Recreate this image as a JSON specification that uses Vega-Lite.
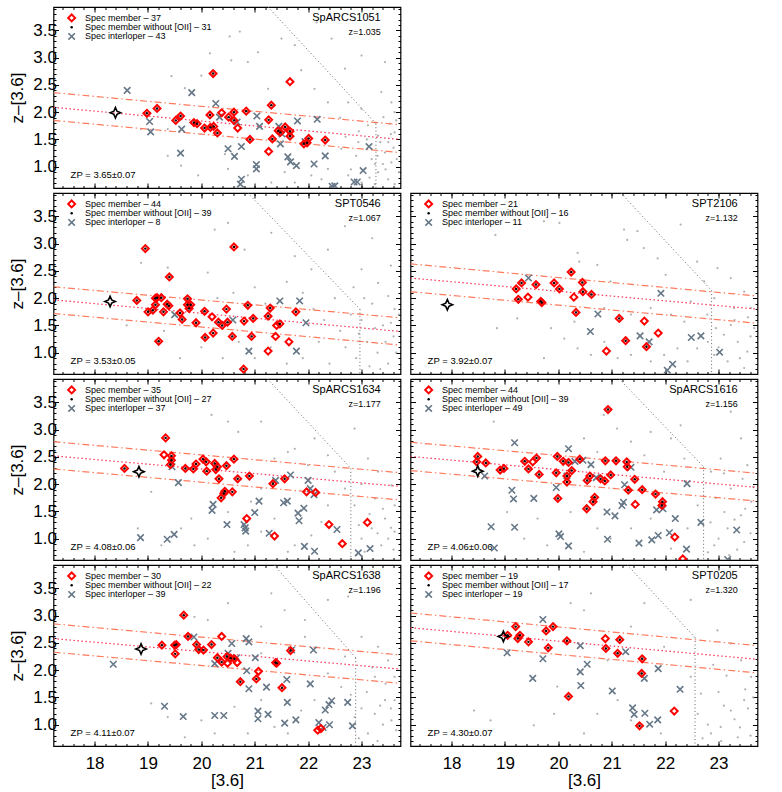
{
"$schema": "https://vega.github.io/schema/vega-lite/v6.json",
"background": "white",
"padding": {"left": 7.5, "top": 5, "right": 5, "bottom": 2},
"spacing": 1,
"config": {
  "font": "Liberation Sans",
  "view": {"stroke": "#000", "strokeWidth": 1.2},
  "axis": {"grid": false, "domain": false, "tickColor": "#000", "tickWidth": 1, "labelFont": "Liberation Sans", "labelFontSize": 17, "labelColor": "#000", "titleFont": "Liberation Sans", "titleFontSize": 17, "titleFontWeight": "normal", "titleColor": "#000", "labelPadding": 4, "titlePadding": 6},
  "axisBottom": {"labelPadding": 14, "titlePadding": 1},
  "axisLeft": {"labelPadding": 2},
  "text": {"font": "Liberation Sans", "color": "#000"}
},
"datasets": {
"p1": [
{"k":"u","x":17.23,"y":2.36,"x2":23.73,"y2":1.77},{"k":"c","x":17.23,"y":2.09,"x2":23.73,"y2":1.50},{"k":"l","x":17.23,"y":1.85,"x2":23.73,"y2":1.26},
{"k":"d","x":21.25,"y":3.93,"x2":23.27,"y2":1.79},{"k":"v","x":23.27,"y":1.79,"x2":23.27,"y2":0.61},
{"k":"g","x":18.39,"y":1.99},
{"k":"m","x":18.98,"y":1.98},{"k":"m","x":19.17,"y":2.07},{"k":"m","x":19.52,"y":1.85},{"k":"m","x":19.61,"y":1.93},{"k":"m","x":19.86,"y":1.81},{"k":"m","x":19.92,"y":1.79},{"k":"m","x":20.06,"y":1.71},{"k":"m","x":20.16,"y":1.95},{"k":"m","x":20.17,"y":1.72},{"k":"m","x":20.23,"y":1.74},{"k":"m","x":20.22,"y":2.71},{"k":"m","x":20.30,"y":1.62},{"k":"m","x":20.51,"y":1.91},{"k":"m","x":20.61,"y":2.0},{"k":"m","x":20.61,"y":1.85},{"k":"m","x":20.84,"y":2.02},{"k":"m","x":20.91,"y":1.50},{"k":"m","x":21.26,"y":1.86},{"k":"m","x":21.31,"y":2.13},{"k":"m","x":21.33,"y":1.51},{"k":"m","x":21.44,"y":1.66},{"k":"m","x":21.48,"y":1.63},{"k":"m","x":21.57,"y":1.73},{"k":"m","x":21.66,"y":1.65},{"k":"m","x":21.66,"y":1.56},{"k":"m","x":21.92,"y":1.42},{"k":"m","x":21.98,"y":1.44},{"k":"m","x":22.01,"y":1.52},{"k":"m","x":22.32,"y":1.49},
{"k":"o","x":20.38,"y":1.99},{"k":"o","x":20.68,"y":1.71},{"k":"o","x":21.26,"y":1.28},{"k":"o","x":21.66,"y":2.56},
{"k":"i","x":18.61,"y":2.40},{"k":"i","x":19.03,"y":1.83},{"k":"i","x":19.05,"y":1.64},{"k":"i","x":19.61,"y":1.25},{"k":"i","x":19.63,"y":1.69},{"k":"i","x":19.82,"y":2.36},{"k":"i","x":20.27,"y":2.16},{"k":"i","x":20.34,"y":1.91},{"k":"i","x":20.5,"y":1.33},{"k":"i","x":20.62,"y":1.19},{"k":"i","x":20.67,"y":1.82},{"k":"i","x":20.75,"y":1.37},{"k":"i","x":20.75,"y":0.77},{"k":"i","x":20.73,"y":0.68},{"k":"i","x":21.03,"y":1.04},{"k":"i","x":21.03,"y":0.96},{"k":"i","x":21.04,"y":1.93},{"k":"i","x":21.09,"y":1.74},{"k":"i","x":21.45,"y":1.74},{"k":"i","x":21.48,"y":1.42},{"k":"i","x":21.51,"y":1.60},{"k":"i","x":21.62,"y":1.18},{"k":"i","x":21.67,"y":1.09},{"k":"i","x":21.78,"y":1.02},{"k":"i","x":21.80,"y":1.84},{"k":"i","x":21.94,"y":1.46},{"k":"i","x":22.11,"y":1.05},{"k":"i","x":22.17,"y":1.87},{"k":"i","x":22.32,"y":1.20},{"k":"i","x":22.45,"y":0.64},{"k":"i","x":22.5,"y":0.65},{"k":"i","x":22.86,"y":0.72},{"k":"i","x":22.92,"y":0.72},{"k":"i","x":23.03,"y":0.93},{"k":"i","x":23.14,"y":1.37},
{"k":"b","x":20.53,"y":3.39},{"k":"b","x":20.72,"y":3.48},{"k":"b","x":20.16,"y":3.08},{"k":"b","x":19.44,"y":2.66},{"k":"b","x":19.69,"y":2.44},{"k":"b","x":20.0,"y":2.67},{"k":"b","x":20.56,"y":2.95},{"k":"b","x":20.87,"y":2.92},{"k":"b","x":21.06,"y":3.10},{"k":"b","x":21.5,"y":3.35},{"k":"b","x":21.75,"y":3.23},{"k":"b","x":21.87,"y":2.77},{"k":"b","x":22.16,"y":3.65},{"k":"b","x":22.44,"y":3.35},{"k":"b","x":22.69,"y":2.80},{"k":"b","x":23.0,"y":3.04},{"k":"b","x":23.37,"y":2.37},{"k":"b","x":23.44,"y":2.92},{"k":"b","x":23.56,"y":2.18},{"k":"b","x":23.62,"y":2.0},{"k":"b","x":23.0,"y":2.06},{"k":"b","x":22.75,"y":2.18},{"k":"b","x":23.12,"y":1.76},{"k":"b","x":23.31,"y":1.57},{"k":"b","x":23.5,"y":1.45},{"k":"b","x":23.44,"y":1.26},{"k":"b","x":23.56,"y":1.08},{"k":"b","x":23.19,"y":1.14},{"k":"b","x":23.31,"y":0.90},{"k":"b","x":23.0,"y":0.71},{"k":"b","x":22.75,"y":0.84},{"k":"b","x":22.62,"y":1.33},{"k":"b","x":22.37,"y":0.96},{"k":"b","x":22.25,"y":0.77},{"k":"b","x":22.06,"y":0.84},{"k":"b","x":21.75,"y":0.71},{"k":"b","x":21.56,"y":0.90},{"k":"b","x":21.31,"y":0.71},{"k":"b","x":20.87,"y":0.84},{"k":"b","x":20.5,"y":0.96},{"k":"b","x":20.44,"y":1.23},{"k":"b","x":19.94,"y":0.84},{"k":"b","x":19.62,"y":1.02},{"k":"b","x":19.37,"y":1.20},{"k":"b","x":19.37,"y":1.69},{"k":"b","x":18.87,"y":1.69},{"k":"b","x":21.25,"y":2.43},{"k":"b","x":22.12,"y":2.43},{"k":"b","x":22.37,"y":2.18},{"k":"b","x":23.62,"y":1.63},{"k":"b","x":23.5,"y":0.77},{"k":"b","x":23.25,"y":0.68},{"k":"b","x":23.62,"y":0.68},{"k":"b","x":22.94,"y":1.45},{"k":"b","x":23.19,"y":1.33},{"k":"b","x":23.41,"y":1.91},{"k":"b","x":23.53,"y":1.79},{"k":"b","x":23.66,"y":1.14},{"k":"b","x":23.06,"y":0.96},{"k":"b","x":23.1,"y":1.5},{"k":"b","x":23.3,"y":1.2},{"k":"b","x":23.45,"y":0.95},{"k":"b","x":23.6,"y":1.35},{"k":"b","x":23.25,"y":1.05},{"k":"b","x":22.9,"y":1.2},{"k":"b","x":23.55,"y":1.6},{"k":"b","x":23.7,"y":0.9},{"k":"b","x":22.8,"y":0.95},{"k":"b","x":23.35,"y":1.45},{"k":"b","x":22.6,"y":1.9},{"k":"b","x":23.4,"y":1.05},{"k":"b","x":23.15,"y":0.8},{"k":"b","x":22.95,"y":1.65},{"k":"b","x":23.65,"y":1.85},{"k":"b","x":22.7,"y":1.55}
],
"p2": [
{"k":"u","x":17.23,"y":2.21,"x2":23.73,"y2":1.64},{"k":"c","x":17.23,"y":1.97,"x2":23.73,"y2":1.39},{"k":"l","x":17.23,"y":1.72,"x2":23.73,"y2":1.14},
{"k":"d","x":20.87,"y":3.93,"x2":22.97,"y2":1.80},{"k":"v","x":22.97,"y":1.80,"x2":22.97,"y2":0.61},
{"k":"g","x":18.29,"y":1.94},
{"k":"m","x":18.79,"y":1.96},{"k":"m","x":18.95,"y":2.91},{"k":"m","x":19.0,"y":1.75},{"k":"m","x":19.09,"y":1.78},{"k":"m","x":19.14,"y":1.88},{"k":"m","x":19.14,"y":2.0},{"k":"m","x":19.17,"y":2.01},{"k":"m","x":19.25,"y":2.01},{"k":"m","x":19.2,"y":1.21},{"k":"m","x":19.29,"y":1.75},{"k":"m","x":19.36,"y":1.89},{"k":"m","x":19.39,"y":1.86},{"k":"m","x":19.4,"y":2.39},{"k":"m","x":19.6,"y":1.73},{"k":"m","x":19.64,"y":1.61},{"k":"m","x":19.74,"y":1.99},{"k":"m","x":19.74,"y":1.88},{"k":"m","x":19.77,"y":1.81},{"k":"m","x":19.8,"y":1.88},{"k":"m","x":19.9,"y":1.55},{"k":"m","x":20.06,"y":1.76},{"k":"m","x":20.07,"y":1.28},{"k":"m","x":20.22,"y":1.36},{"k":"m","x":20.32,"y":1.56},{"k":"m","x":20.39,"y":1.50},{"k":"m","x":20.47,"y":1.80},{"k":"m","x":20.49,"y":1.56},{"k":"m","x":20.58,"y":1.30},{"k":"m","x":20.61,"y":2.94},{"k":"m","x":20.8,"y":1.58},{"k":"m","x":20.79,"y":0.70},{"k":"m","x":20.87,"y":1.87},{"k":"m","x":20.94,"y":1.30},{"k":"m","x":20.97,"y":1.63},{"k":"m","x":21.25,"y":1.67},{"k":"m","x":21.29,"y":1.82},{"k":"m","x":21.47,"y":1.53},{"k":"m","x":21.77,"y":1.75},
{"k":"o","x":20.2,"y":1.66},{"k":"o","x":21.25,"y":1.03},{"k":"o","x":21.39,"y":1.30},{"k":"o","x":21.41,"y":1.50},{"k":"o","x":21.64,"y":1.20},
{"k":"i","x":19.5,"y":1.70},{"k":"i","x":20.59,"y":1.60},{"k":"i","x":20.89,"y":1.03},{"k":"i","x":21.47,"y":1.95},{"k":"i","x":21.84,"y":1.95},{"k":"i","x":21.96,"y":1.55},{"k":"i","x":21.78,"y":1.03},
{"k":"b","x":18.87,"y":2.65},{"k":"b","x":19.37,"y":2.56},{"k":"b","x":20.12,"y":2.47},{"k":"b","x":20.25,"y":3.26},{"k":"b","x":20.5,"y":3.38},{"k":"b","x":20.81,"y":2.89},{"k":"b","x":21.31,"y":3.2},{"k":"b","x":21.75,"y":2.77},{"k":"b","x":22.06,"y":2.53},{"k":"b","x":22.37,"y":2.89},{"k":"b","x":22.69,"y":3.32},{"k":"b","x":23.0,"y":2.53},{"k":"b","x":23.31,"y":2.28},{"k":"b","x":23.5,"y":2.04},{"k":"b","x":23.62,"y":1.8},{"k":"b","x":23.2,"y":3.1},{"k":"b","x":23.55,"y":2.6},{"k":"b","x":20.3,"y":2.0},{"k":"b","x":20.6,"y":2.1},{"k":"b","x":21.0,"y":2.2},{"k":"b","x":21.2,"y":1.9},{"k":"b","x":21.6,"y":2.3},{"k":"b","x":21.9,"y":2.1},{"k":"b","x":22.1,"y":1.8},{"k":"b","x":22.3,"y":1.6},{"k":"b","x":22.5,"y":2.0},{"k":"b","x":22.6,"y":1.4},{"k":"b","x":22.8,"y":1.7},{"k":"b","x":23.0,"y":1.6},{"k":"b","x":23.1,"y":1.2},{"k":"b","x":23.2,"y":1.9},{"k":"b","x":23.3,"y":1.0},{"k":"b","x":23.4,"y":1.5},{"k":"b","x":23.5,"y":0.8},{"k":"b","x":23.6,"y":1.3},{"k":"b","x":23.7,"y":1.7},{"k":"b","x":22.9,"y":0.9},{"k":"b","x":22.7,"y":1.1},{"k":"b","x":22.4,"y":0.8},{"k":"b","x":22.2,"y":1.2},{"k":"b","x":21.9,"y":0.9},{"k":"b","x":21.6,"y":0.8},{"k":"b","x":21.3,"y":1.1},{"k":"b","x":21.0,"y":0.9},{"k":"b","x":20.7,"y":1.2},{"k":"b","x":20.4,"y":0.9},{"k":"b","x":20.0,"y":1.1},{"k":"b","x":19.6,"y":0.9},{"k":"b","x":19.3,"y":1.4},{"k":"b","x":18.6,"y":1.5},{"k":"b","x":22.95,"y":1.35},{"k":"b","x":23.15,"y":0.75},{"k":"b","x":23.45,"y":1.2},{"k":"b","x":23.65,"y":1.0},{"k":"b","x":23.25,"y":1.45},{"k":"b","x":22.85,"y":2.2},{"k":"b","x":23.05,"y":2.0},{"k":"b","x":23.35,"y":0.7},{"k":"b","x":23.55,"y":1.55}
],
"p3": [
{"k":"u","x":17.23,"y":2.63,"x2":23.73,"y2":2.04},{"k":"c","x":17.23,"y":2.37,"x2":23.73,"y2":1.80},{"k":"l","x":17.23,"y":2.12,"x2":23.73,"y2":1.54},
{"k":"d","x":21.17,"y":3.93,"x2":22.87,"y2":2.14},{"k":"v","x":22.87,"y":2.14,"x2":22.87,"y2":0.61},
{"k":"g","x":17.92,"y":1.88},
{"k":"m","x":19.21,"y":2.17},{"k":"m","x":19.31,"y":2.28},{"k":"m","x":19.25,"y":1.98},{"k":"m","x":19.58,"y":2.25},{"k":"m","x":19.67,"y":1.94},{"k":"m","x":19.69,"y":1.92},{"k":"m","x":19.92,"y":2.28},{"k":"m","x":20.02,"y":2.17},{"k":"m","x":20.24,"y":2.48},{"k":"m","x":20.45,"y":2.29},{"k":"m","x":20.46,"y":2.12},{"k":"m","x":20.62,"y":2.07},{"k":"m","x":20.33,"y":1.74},{"k":"m","x":21.14,"y":1.63},{"k":"m","x":21.26,"y":1.22},{"k":"m","x":21.65,"y":1.11},
{"k":"o","x":19.43,"y":2.02},{"k":"o","x":20.29,"y":2.02},{"k":"o","x":20.9,"y":1.03},{"k":"o","x":21.61,"y":1.58},{"k":"o","x":21.87,"y":1.36},
{"k":"i","x":19.44,"y":2.37},{"k":"i","x":20.74,"y":1.71},{"k":"i","x":20.6,"y":1.39},{"k":"i","x":21.53,"y":1.31},{"k":"i","x":21.7,"y":1.2},{"k":"i","x":21.92,"y":2.09},{"k":"i","x":22.04,"y":0.68},{"k":"i","x":22.14,"y":0.79},{"k":"i","x":22.49,"y":1.28},{"k":"i","x":22.67,"y":1.31},{"k":"i","x":23.02,"y":1.01},
{"k":"b","x":18.82,"y":3.16},{"k":"b","x":18.85,"y":1.45},{"k":"b","x":19.23,"y":1.63},{"k":"b","x":19.73,"y":3.41},{"k":"b","x":20.02,"y":3.38},{"k":"b","x":20.36,"y":2.83},{"k":"b","x":20.39,"y":2.67},{"k":"b","x":20.73,"y":2.61},{"k":"b","x":20.98,"y":2.31},{"k":"b","x":21.23,"y":3.26},{"k":"b","x":21.29,"y":3.07},{"k":"b","x":21.48,"y":3.23},{"k":"b","x":21.6,"y":2.92},{"k":"b","x":21.86,"y":2.73},{"k":"b","x":22.01,"y":2.43},{"k":"b","x":22.29,"y":3.35},{"k":"b","x":22.6,"y":2.67},{"k":"b","x":22.73,"y":2.31},{"k":"b","x":22.98,"y":2.55},{"k":"b","x":23.23,"y":2.37},{"k":"b","x":23.48,"y":2.12},{"k":"b","x":23.61,"y":1.82},{"k":"b","x":23.23,"y":1.51},{"k":"b","x":23.1,"y":1.33},{"k":"b","x":23.36,"y":1.2},{"k":"b","x":23.54,"y":1.02},{"k":"b","x":23.17,"y":0.84},{"k":"b","x":22.92,"y":0.96},{"k":"b","x":22.6,"y":1.08},{"k":"b","x":22.42,"y":0.84},{"k":"b","x":22.23,"y":1.08},{"k":"b","x":21.98,"y":0.96},{"k":"b","x":21.73,"y":0.84},{"k":"b","x":21.36,"y":0.96},{"k":"b","x":21.11,"y":0.9},{"k":"b","x":20.86,"y":1.2},{"k":"b","x":20.61,"y":0.96},{"k":"b","x":20.36,"y":1.08},{"k":"b","x":20.11,"y":1.26},{"k":"b","x":19.86,"y":1.45},{"k":"b","x":19.73,"y":0.9},{"k":"b","x":20.3,"y":1.57},{"k":"b","x":20.86,"y":1.82},{"k":"b","x":21.36,"y":1.7},{"k":"b","x":21.73,"y":1.82},{"k":"b","x":22.11,"y":1.7},{"k":"b","x":22.36,"y":1.57},{"k":"b","x":22.79,"y":1.7},{"k":"b","x":23.67,"y":1.45},{"k":"b","x":23.48,"y":0.72},{"k":"b","x":23.29,"y":1.82},{"k":"b","x":22.92,"y":2.0},{"k":"b","x":22.48,"y":1.94},{"k":"b","x":23.3,"y":1.6},{"k":"b","x":23.6,"y":1.3},{"k":"b","x":23.0,"y":1.1},{"k":"b","x":22.8,"y":1.2},{"k":"b","x":23.4,"y":0.9},{"k":"b","x":23.55,"y":1.65},{"k":"b","x":22.95,"y":1.45}
],
"p4": [
{"k":"u","x":17.23,"y":2.78,"x2":23.73,"y2":2.21},{"k":"c","x":17.23,"y":2.52,"x2":23.73,"y2":1.96},{"k":"l","x":17.23,"y":2.28,"x2":23.73,"y2":1.71},
{"k":"d","x":21.24,"y":3.93,"x2":22.8,"y2":2.29},{"k":"v","x":22.8,"y":2.29,"x2":22.8,"y2":0.61},
{"k":"g","x":18.83,"y":2.23},
{"k":"m","x":18.56,"y":2.29},{"k":"m","x":19.33,"y":2.85},{"k":"m","x":19.44,"y":2.52},{"k":"m","x":19.44,"y":2.44},{"k":"m","x":19.42,"y":2.36},{"k":"m","x":19.7,"y":2.29},{"k":"m","x":19.85,"y":2.28},{"k":"m","x":19.9,"y":2.37},{"k":"m","x":20.03,"y":2.46},{"k":"m","x":20.09,"y":2.41},{"k":"m","x":20.1,"y":2.24},{"k":"m","x":20.25,"y":2.38},{"k":"m","x":20.27,"y":2.27},{"k":"m","x":20.3,"y":2.32},{"k":"m","x":20.33,"y":2.10},{"k":"m","x":20.37,"y":1.75},{"k":"m","x":20.42,"y":1.83},{"k":"m","x":20.44,"y":1.87},{"k":"m","x":20.47,"y":2.34},{"k":"m","x":20.58,"y":1.86},{"k":"m","x":20.61,"y":2.46},{"k":"m","x":20.68,"y":2.10},{"k":"m","x":20.9,"y":2.15},{"k":"m","x":21.34,"y":2.01},{"k":"m","x":21.56,"y":2.10},
{"k":"o","x":19.3,"y":2.54},{"k":"o","x":20.85,"y":1.37},{"k":"o","x":21.37,"y":1.05},{"k":"o","x":21.97,"y":1.86},{"k":"o","x":22.14,"y":1.85},{"k":"o","x":22.39,"y":1.26},{"k":"o","x":22.64,"y":0.91},{"k":"o","x":23.11,"y":1.30},
{"k":"i","x":18.86,"y":1.02},{"k":"i","x":19.36,"y":0.99},{"k":"i","x":19.49,"y":1.08},{"k":"i","x":19.45,"y":2.32},{"k":"i","x":19.57,"y":2.03},{"k":"i","x":20.2,"y":1.52},{"k":"i","x":20.22,"y":1.63},{"k":"i","x":20.48,"y":1.26},{"k":"i","x":20.8,"y":1.26},{"k":"i","x":20.82,"y":1.20},{"k":"i","x":20.83,"y":1.14},{"k":"i","x":21.0,"y":1.48},{"k":"i","x":21.08,"y":1.69},{"k":"i","x":21.27,"y":1.10},{"k":"i","x":21.39,"y":2.07},{"k":"i","x":21.54,"y":1.66},{"k":"i","x":21.61,"y":1.69},{"k":"i","x":21.67,"y":2.17},{"k":"i","x":21.81,"y":1.47},{"k":"i","x":21.83,"y":1.33},{"k":"i","x":21.92,"y":1.56},{"k":"i","x":21.93,"y":0.86},{"k":"i","x":22.0,"y":2.07},{"k":"i","x":22.04,"y":1.92},{"k":"i","x":22.11,"y":1.81},{"k":"i","x":22.12,"y":0.77},{"k":"i","x":22.54,"y":1.17},{"k":"i","x":22.94,"y":0.74},{"k":"i","x":23.16,"y":0.82},
{"k":"b","x":19.06,"y":1.86},{"k":"b","x":18.81,"y":1.19},{"k":"b","x":19.81,"y":1.37},{"k":"b","x":20.19,"y":3.27},{"k":"b","x":20.5,"y":3.15},{"k":"b","x":20.69,"y":2.96},{"k":"b","x":21.12,"y":3.15},{"k":"b","x":21.37,"y":2.47},{"k":"b","x":21.75,"y":2.65},{"k":"b","x":22.0,"y":2.35},{"k":"b","x":22.12,"y":2.84},{"k":"b","x":22.37,"y":2.53},{"k":"b","x":22.87,"y":3.02},{"k":"b","x":23.12,"y":2.47},{"k":"b","x":23.31,"y":2.23},{"k":"b","x":23.56,"y":1.98},{"k":"b","x":23.62,"y":1.61},{"k":"b","x":23.44,"y":1.37},{"k":"b","x":23.19,"y":1.19},{"k":"b","x":23.0,"y":1.0},{"k":"b","x":23.37,"y":0.88},{"k":"b","x":23.62,"y":1.13},{"k":"b","x":22.87,"y":1.61},{"k":"b","x":22.69,"y":1.92},{"k":"b","x":22.37,"y":1.61},{"k":"b","x":22.25,"y":1.31},{"k":"b","x":22.06,"y":1.06},{"k":"b","x":21.75,"y":0.88},{"k":"b","x":21.62,"y":0.76},{"k":"b","x":21.37,"y":1.37},{"k":"b","x":21.12,"y":1.13},{"k":"b","x":20.87,"y":0.88},{"k":"b","x":20.62,"y":0.76},{"k":"b","x":20.5,"y":1.49},{"k":"b","x":20.12,"y":1.0},{"k":"b","x":19.87,"y":0.88},{"k":"b","x":19.62,"y":1.19},{"k":"b","x":19.25,"y":0.88},{"k":"b","x":21.12,"y":1.92},{"k":"b","x":20.93,"y":1.68},{"k":"b","x":21.62,"y":2.59},{"k":"b","x":22.5,"y":2.23},{"k":"b","x":23.25,"y":1.74},{"k":"b","x":23.5,"y":1.0},{"k":"b","x":23.06,"y":0.76},{"k":"b","x":23.4,"y":1.55},{"k":"b","x":23.15,"y":1.45},{"k":"b","x":23.6,"y":0.8},{"k":"b","x":22.95,"y":1.25},{"k":"b","x":23.3,"y":1.1},{"k":"b","x":23.55,"y":1.2},{"k":"b","x":23.0,"y":2.0},{"k":"b","x":22.9,"y":0.7}
],
"p5": [
{"k":"u","x":17.23,"y":2.77,"x2":23.73,"y2":2.20},{"k":"c","x":17.23,"y":2.51,"x2":23.73,"y2":1.94},{"k":"l","x":17.23,"y":2.25,"x2":23.73,"y2":1.69},
{"k":"d","x":21.14,"y":3.93,"x2":22.72,"y2":2.32},{"k":"v","x":22.72,"y":2.32,"x2":22.72,"y2":0.61},
{"k":"g","x":18.49,"y":2.24},
{"k":"m","x":18.49,"y":2.51},{"k":"m","x":18.47,"y":2.41},{"k":"m","x":18.64,"y":2.39},{"k":"m","x":18.91,"y":2.26},{"k":"m","x":18.98,"y":2.29},{"k":"m","x":19.37,"y":2.42},{"k":"m","x":19.44,"y":2.28},{"k":"m","x":19.59,"y":2.48},{"k":"m","x":19.64,"y":2.18},{"k":"m","x":19.98,"y":2.51},{"k":"m","x":19.96,"y":2.21},{"k":"m","x":19.99,"y":1.74},{"k":"m","x":20.09,"y":2.42},{"k":"m","x":20.16,"y":2.15},{"k":"m","x":20.16,"y":2.04},{"k":"m","x":20.19,"y":2.40},{"k":"m","x":20.25,"y":2.25},{"k":"m","x":20.4,"y":2.46},{"k":"m","x":20.54,"y":2.07},{"k":"m","x":20.59,"y":2.15},{"k":"m","x":20.53,"y":1.55},{"k":"m","x":20.65,"y":1.68},{"k":"m","x":20.68,"y":1.76},{"k":"m","x":20.79,"y":2.10},{"k":"m","x":20.87,"y":2.06},{"k":"m","x":20.88,"y":2.43},{"k":"m","x":20.93,"y":3.37},{"k":"m","x":20.98,"y":2.17},{"k":"m","x":21.08,"y":2.43},{"k":"m","x":21.28,"y":2.41},{"k":"m","x":21.29,"y":2.32},{"k":"m","x":21.31,"y":1.89},{"k":"m","x":21.43,"y":2.09},{"k":"m","x":21.57,"y":1.90},{"k":"m","x":21.82,"y":1.82},{"k":"m","x":21.95,"y":1.68},{"k":"m","x":21.94,"y":1.61},
{"k":"o","x":19.52,"y":2.41},{"k":"o","x":21.44,"y":1.63},{"k":"o","x":22.18,"y":1.03},{"k":"o","x":22.33,"y":0.63},
{"k":"i","x":18.62,"y":2.15},{"k":"i","x":18.74,"y":1.22},{"k":"i","x":19.18,"y":2.76},{"k":"i","x":19.13,"y":1.89},{"k":"i","x":19.16,"y":1.73},{"k":"i","x":19.54,"y":1.74},{"k":"i","x":19.18,"y":1.21},{"k":"i","x":18.8,"y":0.83},{"k":"i","x":19.96,"y":1.94},{"k":"i","x":20.19,"y":2.65},{"k":"i","x":20.16,"y":2.15},{"k":"i","x":20.01,"y":1.09},{"k":"i","x":20.04,"y":1.04},{"k":"i","x":20.19,"y":0.87},{"k":"i","x":20.31,"y":2.42},{"k":"i","x":20.46,"y":2.44},{"k":"i","x":20.61,"y":2.36},{"k":"i","x":20.71,"y":2.12},{"k":"i","x":20.91,"y":1.49},{"k":"i","x":20.92,"y":0.99},{"k":"i","x":21.06,"y":1.42},{"k":"i","x":21.19,"y":1.61},{"k":"i","x":21.22,"y":1.67},{"k":"i","x":21.24,"y":1.99},{"k":"i","x":21.36,"y":2.31},{"k":"i","x":21.51,"y":0.92},{"k":"i","x":21.75,"y":0.98},{"k":"i","x":21.87,"y":1.06},{"k":"i","x":21.84,"y":1.53},{"k":"i","x":21.96,"y":1.55},{"k":"i","x":22.19,"y":1.37},{"k":"i","x":22.08,"y":1.11},{"k":"i","x":22.4,"y":0.81},{"k":"i","x":22.41,"y":2.01},{"k":"i","x":22.67,"y":1.30},{"k":"i","x":23.34,"y":1.16},{"k":"i","x":23.17,"y":0.62},
{"k":"b","x":18.79,"y":3.15},{"k":"b","x":20.85,"y":3.27},{"k":"b","x":21.1,"y":3.02},{"k":"b","x":21.36,"y":2.78},{"k":"b","x":21.61,"y":2.53},{"k":"b","x":21.73,"y":2.96},{"k":"b","x":22.11,"y":2.84},{"k":"b","x":22.29,"y":3.08},{"k":"b","x":23.23,"y":3.33},{"k":"b","x":23.42,"y":2.84},{"k":"b","x":23.04,"y":2.47},{"k":"b","x":23.54,"y":2.35},{"k":"b","x":22.86,"y":2.23},{"k":"b","x":23.23,"y":1.92},{"k":"b","x":23.61,"y":1.68},{"k":"b","x":23.42,"y":1.43},{"k":"b","x":23.17,"y":1.19},{"k":"b","x":23.48,"y":0.94},{"k":"b","x":22.92,"y":0.88},{"k":"b","x":23.11,"y":1.49},{"k":"b","x":22.61,"y":1.61},{"k":"b","x":22.42,"y":1.19},{"k":"b","x":22.11,"y":0.82},{"k":"b","x":21.73,"y":1.37},{"k":"b","x":21.36,"y":1.19},{"k":"b","x":20.98,"y":1.0},{"k":"b","x":20.73,"y":1.19},{"k":"b","x":20.48,"y":0.76},{"k":"b","x":19.79,"y":0.88},{"k":"b","x":19.61,"y":1.37},{"k":"b","x":19.36,"y":1.0},{"k":"b","x":19.04,"y":1.49},{"k":"b","x":20.23,"y":1.49},{"k":"b","x":20.48,"y":2.84},{"k":"b","x":20.73,"y":2.59},{"k":"b","x":22.36,"y":2.47},{"k":"b","x":21.98,"y":2.23},{"k":"b","x":23.3,"y":1.35},{"k":"b","x":23.5,"y":1.55},{"k":"b","x":23.0,"y":1.0},{"k":"b","x":23.6,"y":1.1},{"k":"b","x":22.85,"y":1.3},{"k":"b","x":23.2,"y":0.7},{"k":"b","x":23.45,"y":2.1},{"k":"b","x":22.95,"y":1.75},{"k":"b","x":23.65,"y":1.95},{"k":"b","x":23.1,"y":2.2},{"k":"b","x":23.35,"y":0.8},{"k":"b","x":22.8,"y":0.75}
],
"p6": [
{"k":"u","x":17.23,"y":2.85,"x2":23.73,"y2":2.28},{"k":"c","x":17.23,"y":2.58,"x2":23.73,"y2":2.02},{"k":"l","x":17.23,"y":2.33,"x2":23.73,"y2":1.76},
{"k":"d","x":21.36,"y":3.93,"x2":22.89,"y2":2.23},{"k":"v","x":22.89,"y":2.23,"x2":22.89,"y2":0.61},
{"k":"g","x":18.87,"y":2.39},
{"k":"m","x":19.26,"y":2.46},{"k":"m","x":19.5,"y":2.46},{"k":"m","x":19.53,"y":2.47},{"k":"m","x":19.51,"y":2.30},{"k":"m","x":19.67,"y":3.01},{"k":"m","x":19.75,"y":2.62},{"k":"m","x":19.91,"y":2.47},{"k":"m","x":19.95,"y":2.38},{"k":"m","x":20.04,"y":2.37},{"k":"m","x":20.19,"y":2.47},{"k":"m","x":20.3,"y":2.23},{"k":"m","x":20.38,"y":2.15},{"k":"m","x":20.48,"y":2.25},{"k":"m","x":20.55,"y":2.22},{"k":"m","x":20.62,"y":2.21},{"k":"m","x":20.73,"y":1.79},{"k":"m","x":21.03,"y":1.84},{"k":"m","x":21.39,"y":2.14},{"k":"m","x":21.41,"y":2.13},{"k":"m","x":21.51,"y":1.68},{"k":"m","x":21.67,"y":2.36},
{"k":"o","x":20.38,"y":2.62},{"k":"o","x":20.49,"y":2.13},{"k":"o","x":20.67,"y":2.14},{"k":"o","x":21.07,"y":1.98},{"k":"o","x":22.18,"y":0.90},{"k":"o","x":22.24,"y":0.93},
{"k":"i","x":18.35,"y":2.11},{"k":"i","x":19.31,"y":1.34},{"k":"i","x":19.66,"y":1.15},{"k":"i","x":19.86,"y":2.61},{"k":"i","x":20.25,"y":1.17},{"k":"i","x":20.25,"y":2.12},{"k":"i","x":20.42,"y":1.17},{"k":"i","x":20.5,"y":2.31},{"k":"i","x":20.57,"y":2.49},{"k":"i","x":20.66,"y":2.23},{"k":"i","x":20.84,"y":2.58},{"k":"i","x":20.89,"y":2.52},{"k":"i","x":20.85,"y":1.99},{"k":"i","x":20.89,"y":1.66},{"k":"i","x":21.01,"y":2.23},{"k":"i","x":21.06,"y":1.25},{"k":"i","x":21.06,"y":1.11},{"k":"i","x":21.22,"y":1.69},{"k":"i","x":21.25,"y":1.19},{"k":"i","x":21.56,"y":1.03},{"k":"i","x":21.6,"y":1.83},{"k":"i","x":21.61,"y":1.41},{"k":"i","x":21.69,"y":2.37},{"k":"i","x":21.77,"y":1.09},{"k":"i","x":22.04,"y":1.75},{"k":"i","x":22.1,"y":2.37},{"k":"i","x":22.2,"y":1.04},{"k":"i","x":22.28,"y":0.95},{"k":"i","x":22.32,"y":1.27},{"k":"i","x":22.39,"y":1.37},{"k":"i","x":22.44,"y":1.44},{"k":"i","x":22.4,"y":1.0},{"k":"i","x":22.74,"y":1.41},{"k":"i","x":22.83,"y":0.98},
{"k":"b","x":19.87,"y":2.98},{"k":"b","x":20.12,"y":2.92},{"k":"b","x":20.5,"y":3.23},{"k":"b","x":21.12,"y":2.8},{"k":"b","x":21.31,"y":3.41},{"k":"b","x":21.56,"y":3.1},{"k":"b","x":21.94,"y":2.92},{"k":"b","x":22.37,"y":3.29},{"k":"b","x":22.75,"y":3.35},{"k":"b","x":23.0,"y":2.61},{"k":"b","x":23.31,"y":2.43},{"k":"b","x":23.5,"y":2.18},{"k":"b","x":23.62,"y":1.88},{"k":"b","x":23.44,"y":1.45},{"k":"b","x":23.25,"y":1.2},{"k":"b","x":23.56,"y":1.08},{"k":"b","x":23.12,"y":0.84},{"k":"b","x":22.87,"y":1.14},{"k":"b","x":22.62,"y":1.69},{"k":"b","x":22.37,"y":1.94},{"k":"b","x":22.12,"y":1.45},{"k":"b","x":21.87,"y":1.26},{"k":"b","x":21.62,"y":0.84},{"k":"b","x":21.37,"y":0.96},{"k":"b","x":21.12,"y":1.45},{"k":"b","x":20.87,"y":0.84},{"k":"b","x":20.62,"y":1.33},{"k":"b","x":20.25,"y":0.84},{"k":"b","x":20.0,"y":1.08},{"k":"b","x":19.69,"y":0.77},{"k":"b","x":19.37,"y":1.14},{"k":"b","x":19.06,"y":1.39},{"k":"b","x":21.12,"y":2.31},{"k":"b","x":21.94,"y":2.61},{"k":"b","x":22.69,"y":2.25},{"k":"b","x":23.25,"y":1.88},{"k":"b","x":23.62,"y":1.45},{"k":"b","x":23.4,"y":1.0},{"k":"b","x":23.1,"y":1.6},{"k":"b","x":23.55,"y":1.3},{"k":"b","x":22.95,"y":0.75},{"k":"b","x":23.3,"y":0.7},{"k":"b","x":23.65,"y":0.9},{"k":"b","x":22.8,"y":1.55},{"k":"b","x":23.2,"y":2.05},{"k":"b","x":23.45,"y":1.75},{"k":"b","x":23.0,"y":1.3},{"k":"b","x":23.35,"y":1.35}
],
"p7": [
{"k":"u","x":17.23,"y":3.05,"x2":23.73,"y2":2.45},{"k":"c","x":17.23,"y":2.78,"x2":23.73,"y2":2.20},{"k":"l","x":17.23,"y":2.54,"x2":23.73,"y2":1.95},
{"k":"d","x":21.29,"y":3.93,"x2":22.56,"y2":2.6},{"k":"v","x":22.56,"y":2.6,"x2":22.56,"y2":0.61},
{"k":"g","x":18.97,"y":2.62},
{"k":"m","x":19.05,"y":2.64},{"k":"m","x":19.2,"y":2.80},{"k":"m","x":19.24,"y":2.58},{"k":"m","x":19.28,"y":2.64},{"k":"m","x":19.44,"y":2.52},{"k":"m","x":19.77,"y":2.72},{"k":"m","x":19.9,"y":2.80},{"k":"m","x":19.81,"y":2.41},{"k":"m","x":20.16,"y":2.54},{"k":"m","x":20.19,"y":1.52},{"k":"m","x":20.89,"y":2.40},{"k":"m","x":21.11,"y":2.31},{"k":"m","x":21.15,"y":2.56},{"k":"m","x":21.57,"y":2.21},{"k":"m","x":21.56,"y":1.94},{"k":"m","x":21.52,"y":0.98},
{"k":"o","x":20.88,"y":2.58},{"k":"o","x":22.17,"y":1.25},
{"k":"i","x":19.04,"y":2.32},{"k":"i","x":19.52,"y":1.85},{"k":"i","x":19.71,"y":2.93},{"k":"i","x":19.71,"y":2.21},{"k":"i","x":20.41,"y":2.45},{"k":"i","x":20.41,"y":1.97},{"k":"i","x":20.42,"y":1.72},{"k":"i","x":20.54,"y":2.11},{"k":"i","x":21.01,"y":1.62},{"k":"i","x":21.26,"y":2.34},{"k":"i","x":21.39,"y":1.31},{"k":"i","x":21.42,"y":1.19},{"k":"i","x":21.62,"y":1.21},{"k":"i","x":21.61,"y":1.85},{"k":"i","x":21.71,"y":1.01},{"k":"i","x":21.86,"y":1.09},{"k":"i","x":21.87,"y":2.03},{"k":"i","x":22.28,"y":1.65},
{"k":"b","x":18.42,"y":1.26},{"k":"b","x":18.73,"y":1.08},{"k":"b","x":19.54,"y":0.99},{"k":"b","x":19.92,"y":1.2},{"k":"b","x":20.23,"y":3.23},{"k":"b","x":20.48,"y":3.1},{"k":"b","x":20.61,"y":3.41},{"k":"b","x":21.36,"y":2.8},{"k":"b","x":21.61,"y":3.23},{"k":"b","x":22.48,"y":3.29},{"k":"b","x":22.98,"y":2.73},{"k":"b","x":23.23,"y":2.49},{"k":"b","x":23.42,"y":2.18},{"k":"b","x":23.61,"y":1.88},{"k":"b","x":23.48,"y":1.45},{"k":"b","x":23.23,"y":1.26},{"k":"b","x":23.04,"y":0.96},{"k":"b","x":23.36,"y":0.77},{"k":"b","x":22.86,"y":0.84},{"k":"b","x":22.61,"y":1.2},{"k":"b","x":22.67,"y":1.57},{"k":"b","x":22.48,"y":1.88},{"k":"b","x":22.11,"y":1.26},{"k":"b","x":21.92,"y":0.84},{"k":"b","x":21.36,"y":1.08},{"k":"b","x":21.11,"y":1.45},{"k":"b","x":20.73,"y":1.2},{"k":"b","x":20.48,"y":0.84},{"k":"b","x":19.98,"y":1.7},{"k":"b","x":20.92,"y":2.18},{"k":"b","x":21.98,"y":2.43},{"k":"b","x":23.0,"y":1.6},{"k":"b","x":23.3,"y":1.1},{"k":"b","x":23.55,"y":1.3},{"k":"b","x":22.8,"y":1.0},{"k":"b","x":23.15,"y":1.9},{"k":"b","x":23.6,"y":0.8},{"k":"b","x":22.9,"y":2.1},{"k":"b","x":23.4,"y":0.95},{"k":"b","x":23.05,"y":0.7},{"k":"b","x":23.5,"y":1.65},{"k":"b","x":22.7,"y":0.75},{"k":"b","x":23.1,"y":1.35},{"k":"b","x":23.65,"y":1.5}
]
},
"vconcat": [
{"width":347,"height":181,"resolve":{"axis":{"x":"independent","y":"independent"}},"layer":[
 {"data":{"name":"p1"},"transform":[{"filter":"datum.k=='b'"}],"mark":{"type":"point","filled":true,"size":5,"color":"#a8a8a8","opacity":0.9,"clip":true},"encoding":{"x":{"field":"x","type":"quantitative","scale":{"domain":[17.23,23.73],"nice":false,"zero":false},"axis":{"orient":"bottom","tickCount":6,"tickSize":-5,"labels":false,"title":null}},"y":{"field":"y","type":"quantitative","scale":{"domain":[0.61,3.93],"nice":false,"zero":false},"axis":{"orient":"left","tickCount":6,"tickSize":-5,"format":".1f","title":"z–[3.6]"}}}},
 {"data":{"name":"p1"},"transform":[{"filter":"datum.k=='u'||datum.k=='l'"}],"mark":{"type":"rule","color":"#ff7a5c","strokeWidth":1.2,"strokeDash":[7,3,1.5,3],"clip":true},"encoding":{"x":{"field":"x","type":"quantitative","axis":{"orient":"bottom","tickCount":33,"tickSize":-2.5,"labels":false,"title":null}},"y":{"field":"y","type":"quantitative","axis":{"orient":"left","tickCount":33,"tickSize":-2.5,"labels":false,"title":null}},"x2":{"field":"x2"},"y2":{"field":"y2"}}},
 {"data":{"name":"p1"},"transform":[{"filter":"datum.k=='c'"}],"mark":{"type":"rule","color":"#ff3355","strokeWidth":1.2,"strokeDash":[1.5,2.5],"clip":true},"encoding":{"x":{"field":"x","type":"quantitative","axis":{"orient":"top","tickCount":6,"tickSize":-5,"labels":false,"title":null}},"y":{"field":"y","type":"quantitative","axis":{"orient":"right","tickCount":6,"tickSize":-5,"labels":false,"title":null}},"x2":{"field":"x2"},"y2":{"field":"y2"}}},
 {"data":{"name":"p1"},"transform":[{"filter":"datum.k=='d'||datum.k=='v'"}],"mark":{"type":"rule","color":"#666666","strokeWidth":1,"strokeDash":[1,2.5],"clip":true},"encoding":{"x":{"field":"x","type":"quantitative","axis":{"orient":"top","tickCount":33,"tickSize":-2.5,"labels":false,"title":null}},"y":{"field":"y","type":"quantitative","axis":{"orient":"right","tickCount":33,"tickSize":-2.5,"labels":false,"title":null}},"x2":{"field":"x2"},"y2":{"field":"y2"}}},
 {"data":{"name":"p1"},"transform":[{"filter":"datum.k=='i'"}],"mark":{"type":"point","shape":"M-1,-1L1,1M-1,1L1,-1","filled":false,"color":"#667788","strokeWidth":1.6,"size":42,"opacity":1,"clip":true},"encoding":{"x":{"field":"x","type":"quantitative","axis":null},"y":{"field":"y","type":"quantitative","axis":null}}},
 {"data":{"name":"p1"},"transform":[{"filter":"datum.k=='m'||datum.k=='o'"}],"mark":{"type":"point","shape":"diamond","filled":false,"color":"#ff0000","strokeWidth":2,"size":48,"opacity":1,"clip":true},"encoding":{"x":{"field":"x","type":"quantitative","axis":null},"y":{"field":"y","type":"quantitative","axis":null}}},
 {"data":{"name":"p1"},"transform":[{"filter":"datum.k=='m'"}],"mark":{"type":"point","filled":true,"color":"#000000","size":6,"opacity":1,"clip":true},"encoding":{"x":{"field":"x","type":"quantitative","axis":null},"y":{"field":"y","type":"quantitative","axis":null}}},
 {"data":{"name":"p1"},"transform":[{"filter":"datum.k=='g'"}],"mark":{"type":"point","shape":"M0,-1L0.3,-0.3L1,0L0.3,0.3L0,1L-0.3,0.3L-1,0L-0.3,-0.3Z","filled":false,"color":"#000000","strokeWidth":1.6,"size":110,"opacity":1,"clip":true},"encoding":{"x":{"field":"x","type":"quantitative","axis":null},"y":{"field":"y","type":"quantitative","axis":null}}},
 {"data":{"values":[{}]},"mark":{"type":"point","shape":"diamond","filled":false,"color":"#ff0000","strokeWidth":2,"size":48,"opacity":1},"encoding":{"x":{"datum":17.57,"axis":null},"y":{"datum":3.73,"axis":null}}},
 {"data":{"values":[{}]},"mark":{"type":"point","filled":true,"color":"#000000","size":6,"opacity":1},"encoding":{"x":{"datum":17.57,"axis":null},"y":{"datum":3.56,"axis":null}}},
 {"data":{"values":[{}]},"mark":{"type":"point","shape":"M-1,-1L1,1M-1,1L1,-1","filled":false,"color":"#667788","strokeWidth":1.6,"size":42,"opacity":1},"encoding":{"x":{"datum":17.57,"axis":null},"y":{"datum":3.39,"axis":null}}},
 {"data":{"values":[{}]},"mark":{"type":"text","align":"left","baseline":"middle","fontSize":9,"lineHeight":9.3},"encoding":{"x":{"datum":17.82,"axis":null},"y":{"datum":3.73,"axis":null},"text":{"value":["Spec member – 37","Spec member without [OII] – 31","Spec interloper – 43"]}}},
 {"data":{"values":[{}]},"mark":{"type":"text","align":"right","baseline":"middle","fontSize":11},"encoding":{"x":{"datum":23.36,"axis":null},"y":{"datum":3.73,"axis":null},"text":{"value":"SpARCS1051"}}},
 {"data":{"values":[{}]},"mark":{"type":"text","align":"right","baseline":"middle","fontSize":9},"encoding":{"x":{"datum":23.36,"axis":null},"y":{"datum":3.47,"axis":null},"text":{"value":"z=1.035"}}},
 {"data":{"values":[{}]},"mark":{"type":"text","align":"left","baseline":"middle","fontSize":9.5},"encoding":{"x":{"datum":17.55,"axis":null},"y":{"datum":0.84,"axis":null},"text":{"value":"ZP = 3.65±0.07"}}}
]},
{"hconcat":[
{"width":347,"height":181,"resolve":{"axis":{"x":"independent","y":"independent"}},"layer":[
 {"data":{"name":"p2"},"transform":[{"filter":"datum.k=='b'"}],"mark":{"type":"point","filled":true,"size":5,"color":"#a8a8a8","opacity":0.9,"clip":true},"encoding":{"x":{"field":"x","type":"quantitative","scale":{"domain":[17.23,23.73],"nice":false,"zero":false},"axis":{"orient":"bottom","tickCount":6,"tickSize":-5,"labels":false,"title":null}},"y":{"field":"y","type":"quantitative","scale":{"domain":[0.61,3.93],"nice":false,"zero":false},"axis":{"orient":"left","tickCount":6,"tickSize":-5,"format":".1f","title":"z–[3.6]"}}}},
 {"data":{"name":"p2"},"transform":[{"filter":"datum.k=='u'||datum.k=='l'"}],"mark":{"type":"rule","color":"#ff7a5c","strokeWidth":1.2,"strokeDash":[7,3,1.5,3],"clip":true},"encoding":{"x":{"field":"x","type":"quantitative","axis":{"orient":"bottom","tickCount":33,"tickSize":-2.5,"labels":false,"title":null}},"y":{"field":"y","type":"quantitative","axis":{"orient":"left","tickCount":33,"tickSize":-2.5,"labels":false,"title":null}},"x2":{"field":"x2"},"y2":{"field":"y2"}}},
 {"data":{"name":"p2"},"transform":[{"filter":"datum.k=='c'"}],"mark":{"type":"rule","color":"#ff3355","strokeWidth":1.2,"strokeDash":[1.5,2.5],"clip":true},"encoding":{"x":{"field":"x","type":"quantitative","axis":{"orient":"top","tickCount":6,"tickSize":-5,"labels":false,"title":null}},"y":{"field":"y","type":"quantitative","axis":{"orient":"right","tickCount":6,"tickSize":-5,"labels":false,"title":null}},"x2":{"field":"x2"},"y2":{"field":"y2"}}},
 {"data":{"name":"p2"},"transform":[{"filter":"datum.k=='d'||datum.k=='v'"}],"mark":{"type":"rule","color":"#666666","strokeWidth":1,"strokeDash":[1,2.5],"clip":true},"encoding":{"x":{"field":"x","type":"quantitative","axis":{"orient":"top","tickCount":33,"tickSize":-2.5,"labels":false,"title":null}},"y":{"field":"y","type":"quantitative","axis":{"orient":"right","tickCount":33,"tickSize":-2.5,"labels":false,"title":null}},"x2":{"field":"x2"},"y2":{"field":"y2"}}},
 {"data":{"name":"p2"},"transform":[{"filter":"datum.k=='i'"}],"mark":{"type":"point","shape":"M-1,-1L1,1M-1,1L1,-1","filled":false,"color":"#667788","strokeWidth":1.6,"size":42,"opacity":1,"clip":true},"encoding":{"x":{"field":"x","type":"quantitative","axis":null},"y":{"field":"y","type":"quantitative","axis":null}}},
 {"data":{"name":"p2"},"transform":[{"filter":"datum.k=='m'||datum.k=='o'"}],"mark":{"type":"point","shape":"diamond","filled":false,"color":"#ff0000","strokeWidth":2,"size":48,"opacity":1,"clip":true},"encoding":{"x":{"field":"x","type":"quantitative","axis":null},"y":{"field":"y","type":"quantitative","axis":null}}},
 {"data":{"name":"p2"},"transform":[{"filter":"datum.k=='m'"}],"mark":{"type":"point","filled":true,"color":"#000000","size":6,"opacity":1,"clip":true},"encoding":{"x":{"field":"x","type":"quantitative","axis":null},"y":{"field":"y","type":"quantitative","axis":null}}},
 {"data":{"name":"p2"},"transform":[{"filter":"datum.k=='g'"}],"mark":{"type":"point","shape":"M0,-1L0.3,-0.3L1,0L0.3,0.3L0,1L-0.3,0.3L-1,0L-0.3,-0.3Z","filled":false,"color":"#000000","strokeWidth":1.6,"size":110,"opacity":1,"clip":true},"encoding":{"x":{"field":"x","type":"quantitative","axis":null},"y":{"field":"y","type":"quantitative","axis":null}}},
 {"data":{"values":[{}]},"mark":{"type":"point","shape":"diamond","filled":false,"color":"#ff0000","strokeWidth":2,"size":48,"opacity":1},"encoding":{"x":{"datum":17.57,"axis":null},"y":{"datum":3.73,"axis":null}}},
 {"data":{"values":[{}]},"mark":{"type":"point","filled":true,"color":"#000000","size":6,"opacity":1},"encoding":{"x":{"datum":17.57,"axis":null},"y":{"datum":3.56,"axis":null}}},
 {"data":{"values":[{}]},"mark":{"type":"point","shape":"M-1,-1L1,1M-1,1L1,-1","filled":false,"color":"#667788","strokeWidth":1.6,"size":42,"opacity":1},"encoding":{"x":{"datum":17.57,"axis":null},"y":{"datum":3.39,"axis":null}}},
 {"data":{"values":[{}]},"mark":{"type":"text","align":"left","baseline":"middle","fontSize":9,"lineHeight":9.3},"encoding":{"x":{"datum":17.82,"axis":null},"y":{"datum":3.73,"axis":null},"text":{"value":["Spec member – 44","Spec member without [OII] – 39","Spec interloper – 8"]}}},
 {"data":{"values":[{}]},"mark":{"type":"text","align":"right","baseline":"middle","fontSize":11},"encoding":{"x":{"datum":23.36,"axis":null},"y":{"datum":3.73,"axis":null},"text":{"value":"SPT0546"}}},
 {"data":{"values":[{}]},"mark":{"type":"text","align":"right","baseline":"middle","fontSize":9},"encoding":{"x":{"datum":23.36,"axis":null},"y":{"datum":3.47,"axis":null},"text":{"value":"z=1.067"}}},
 {"data":{"values":[{}]},"mark":{"type":"text","align":"left","baseline":"middle","fontSize":9.5},"encoding":{"x":{"datum":17.55,"axis":null},"y":{"datum":0.84,"axis":null},"text":{"value":"ZP = 3.53±0.05"}}}
]},
{"width":347,"height":181,"resolve":{"axis":{"x":"independent","y":"independent"}},"layer":[
 {"data":{"name":"p3"},"transform":[{"filter":"datum.k=='b'"}],"mark":{"type":"point","filled":true,"size":5,"color":"#a8a8a8","opacity":0.9,"clip":true},"encoding":{"x":{"field":"x","type":"quantitative","scale":{"domain":[17.23,23.73],"nice":false,"zero":false},"axis":{"orient":"bottom","tickCount":6,"tickSize":-5,"labels":false,"title":null}},"y":{"field":"y","type":"quantitative","scale":{"domain":[0.61,3.93],"nice":false,"zero":false},"axis":{"orient":"left","tickCount":6,"tickSize":-5,"labels":false,"title":null}}}},
 {"data":{"name":"p3"},"transform":[{"filter":"datum.k=='u'||datum.k=='l'"}],"mark":{"type":"rule","color":"#ff7a5c","strokeWidth":1.2,"strokeDash":[7,3,1.5,3],"clip":true},"encoding":{"x":{"field":"x","type":"quantitative","axis":{"orient":"bottom","tickCount":33,"tickSize":-2.5,"labels":false,"title":null}},"y":{"field":"y","type":"quantitative","axis":{"orient":"left","tickCount":33,"tickSize":-2.5,"labels":false,"title":null}},"x2":{"field":"x2"},"y2":{"field":"y2"}}},
 {"data":{"name":"p3"},"transform":[{"filter":"datum.k=='c'"}],"mark":{"type":"rule","color":"#ff3355","strokeWidth":1.2,"strokeDash":[1.5,2.5],"clip":true},"encoding":{"x":{"field":"x","type":"quantitative","axis":{"orient":"top","tickCount":6,"tickSize":-5,"labels":false,"title":null}},"y":{"field":"y","type":"quantitative","axis":{"orient":"right","tickCount":6,"tickSize":-5,"labels":false,"title":null}},"x2":{"field":"x2"},"y2":{"field":"y2"}}},
 {"data":{"name":"p3"},"transform":[{"filter":"datum.k=='d'||datum.k=='v'"}],"mark":{"type":"rule","color":"#666666","strokeWidth":1,"strokeDash":[1,2.5],"clip":true},"encoding":{"x":{"field":"x","type":"quantitative","axis":{"orient":"top","tickCount":33,"tickSize":-2.5,"labels":false,"title":null}},"y":{"field":"y","type":"quantitative","axis":{"orient":"right","tickCount":33,"tickSize":-2.5,"labels":false,"title":null}},"x2":{"field":"x2"},"y2":{"field":"y2"}}},
 {"data":{"name":"p3"},"transform":[{"filter":"datum.k=='i'"}],"mark":{"type":"point","shape":"M-1,-1L1,1M-1,1L1,-1","filled":false,"color":"#667788","strokeWidth":1.6,"size":42,"opacity":1,"clip":true},"encoding":{"x":{"field":"x","type":"quantitative","axis":null},"y":{"field":"y","type":"quantitative","axis":null}}},
 {"data":{"name":"p3"},"transform":[{"filter":"datum.k=='m'||datum.k=='o'"}],"mark":{"type":"point","shape":"diamond","filled":false,"color":"#ff0000","strokeWidth":2,"size":48,"opacity":1,"clip":true},"encoding":{"x":{"field":"x","type":"quantitative","axis":null},"y":{"field":"y","type":"quantitative","axis":null}}},
 {"data":{"name":"p3"},"transform":[{"filter":"datum.k=='m'"}],"mark":{"type":"point","filled":true,"color":"#000000","size":6,"opacity":1,"clip":true},"encoding":{"x":{"field":"x","type":"quantitative","axis":null},"y":{"field":"y","type":"quantitative","axis":null}}},
 {"data":{"name":"p3"},"transform":[{"filter":"datum.k=='g'"}],"mark":{"type":"point","shape":"M0,-1L0.3,-0.3L1,0L0.3,0.3L0,1L-0.3,0.3L-1,0L-0.3,-0.3Z","filled":false,"color":"#000000","strokeWidth":1.6,"size":110,"opacity":1,"clip":true},"encoding":{"x":{"field":"x","type":"quantitative","axis":null},"y":{"field":"y","type":"quantitative","axis":null}}},
 {"data":{"values":[{}]},"mark":{"type":"point","shape":"diamond","filled":false,"color":"#ff0000","strokeWidth":2,"size":48,"opacity":1},"encoding":{"x":{"datum":17.57,"axis":null},"y":{"datum":3.73,"axis":null}}},
 {"data":{"values":[{}]},"mark":{"type":"point","filled":true,"color":"#000000","size":6,"opacity":1},"encoding":{"x":{"datum":17.57,"axis":null},"y":{"datum":3.56,"axis":null}}},
 {"data":{"values":[{}]},"mark":{"type":"point","shape":"M-1,-1L1,1M-1,1L1,-1","filled":false,"color":"#667788","strokeWidth":1.6,"size":42,"opacity":1},"encoding":{"x":{"datum":17.57,"axis":null},"y":{"datum":3.39,"axis":null}}},
 {"data":{"values":[{}]},"mark":{"type":"text","align":"left","baseline":"middle","fontSize":9,"lineHeight":9.3},"encoding":{"x":{"datum":17.82,"axis":null},"y":{"datum":3.73,"axis":null},"text":{"value":["Spec member – 21","Spec member without [OII] – 16","Spec interloper – 11"]}}},
 {"data":{"values":[{}]},"mark":{"type":"text","align":"right","baseline":"middle","fontSize":11},"encoding":{"x":{"datum":23.36,"axis":null},"y":{"datum":3.73,"axis":null},"text":{"value":"SPT2106"}}},
 {"data":{"values":[{}]},"mark":{"type":"text","align":"right","baseline":"middle","fontSize":9},"encoding":{"x":{"datum":23.36,"axis":null},"y":{"datum":3.47,"axis":null},"text":{"value":"z=1.132"}}},
 {"data":{"values":[{}]},"mark":{"type":"text","align":"left","baseline":"middle","fontSize":9.5},"encoding":{"x":{"datum":17.55,"axis":null},"y":{"datum":0.84,"axis":null},"text":{"value":"ZP = 3.92±0.07"}}}
]}
],"spacing":6},
{"hconcat":[
{"width":347,"height":181,"resolve":{"axis":{"x":"independent","y":"independent"}},"layer":[
 {"data":{"name":"p4"},"transform":[{"filter":"datum.k=='b'"}],"mark":{"type":"point","filled":true,"size":5,"color":"#a8a8a8","opacity":0.9,"clip":true},"encoding":{"x":{"field":"x","type":"quantitative","scale":{"domain":[17.23,23.73],"nice":false,"zero":false},"axis":{"orient":"bottom","tickCount":6,"tickSize":-5,"labels":false,"title":null}},"y":{"field":"y","type":"quantitative","scale":{"domain":[0.61,3.93],"nice":false,"zero":false},"axis":{"orient":"left","tickCount":6,"tickSize":-5,"format":".1f","title":"z–[3.6]"}}}},
 {"data":{"name":"p4"},"transform":[{"filter":"datum.k=='u'||datum.k=='l'"}],"mark":{"type":"rule","color":"#ff7a5c","strokeWidth":1.2,"strokeDash":[7,3,1.5,3],"clip":true},"encoding":{"x":{"field":"x","type":"quantitative","axis":{"orient":"bottom","tickCount":33,"tickSize":-2.5,"labels":false,"title":null}},"y":{"field":"y","type":"quantitative","axis":{"orient":"left","tickCount":33,"tickSize":-2.5,"labels":false,"title":null}},"x2":{"field":"x2"},"y2":{"field":"y2"}}},
 {"data":{"name":"p4"},"transform":[{"filter":"datum.k=='c'"}],"mark":{"type":"rule","color":"#ff3355","strokeWidth":1.2,"strokeDash":[1.5,2.5],"clip":true},"encoding":{"x":{"field":"x","type":"quantitative","axis":{"orient":"top","tickCount":6,"tickSize":-5,"labels":false,"title":null}},"y":{"field":"y","type":"quantitative","axis":{"orient":"right","tickCount":6,"tickSize":-5,"labels":false,"title":null}},"x2":{"field":"x2"},"y2":{"field":"y2"}}},
 {"data":{"name":"p4"},"transform":[{"filter":"datum.k=='d'||datum.k=='v'"}],"mark":{"type":"rule","color":"#666666","strokeWidth":1,"strokeDash":[1,2.5],"clip":true},"encoding":{"x":{"field":"x","type":"quantitative","axis":{"orient":"top","tickCount":33,"tickSize":-2.5,"labels":false,"title":null}},"y":{"field":"y","type":"quantitative","axis":{"orient":"right","tickCount":33,"tickSize":-2.5,"labels":false,"title":null}},"x2":{"field":"x2"},"y2":{"field":"y2"}}},
 {"data":{"name":"p4"},"transform":[{"filter":"datum.k=='i'"}],"mark":{"type":"point","shape":"M-1,-1L1,1M-1,1L1,-1","filled":false,"color":"#667788","strokeWidth":1.6,"size":42,"opacity":1,"clip":true},"encoding":{"x":{"field":"x","type":"quantitative","axis":null},"y":{"field":"y","type":"quantitative","axis":null}}},
 {"data":{"name":"p4"},"transform":[{"filter":"datum.k=='m'||datum.k=='o'"}],"mark":{"type":"point","shape":"diamond","filled":false,"color":"#ff0000","strokeWidth":2,"size":48,"opacity":1,"clip":true},"encoding":{"x":{"field":"x","type":"quantitative","axis":null},"y":{"field":"y","type":"quantitative","axis":null}}},
 {"data":{"name":"p4"},"transform":[{"filter":"datum.k=='m'"}],"mark":{"type":"point","filled":true,"color":"#000000","size":6,"opacity":1,"clip":true},"encoding":{"x":{"field":"x","type":"quantitative","axis":null},"y":{"field":"y","type":"quantitative","axis":null}}},
 {"data":{"name":"p4"},"transform":[{"filter":"datum.k=='g'"}],"mark":{"type":"point","shape":"M0,-1L0.3,-0.3L1,0L0.3,0.3L0,1L-0.3,0.3L-1,0L-0.3,-0.3Z","filled":false,"color":"#000000","strokeWidth":1.6,"size":110,"opacity":1,"clip":true},"encoding":{"x":{"field":"x","type":"quantitative","axis":null},"y":{"field":"y","type":"quantitative","axis":null}}},
 {"data":{"values":[{}]},"mark":{"type":"point","shape":"diamond","filled":false,"color":"#ff0000","strokeWidth":2,"size":48,"opacity":1},"encoding":{"x":{"datum":17.57,"axis":null},"y":{"datum":3.73,"axis":null}}},
 {"data":{"values":[{}]},"mark":{"type":"point","filled":true,"color":"#000000","size":6,"opacity":1},"encoding":{"x":{"datum":17.57,"axis":null},"y":{"datum":3.56,"axis":null}}},
 {"data":{"values":[{}]},"mark":{"type":"point","shape":"M-1,-1L1,1M-1,1L1,-1","filled":false,"color":"#667788","strokeWidth":1.6,"size":42,"opacity":1},"encoding":{"x":{"datum":17.57,"axis":null},"y":{"datum":3.39,"axis":null}}},
 {"data":{"values":[{}]},"mark":{"type":"text","align":"left","baseline":"middle","fontSize":9,"lineHeight":9.3},"encoding":{"x":{"datum":17.82,"axis":null},"y":{"datum":3.73,"axis":null},"text":{"value":["Spec member – 35","Spec member without [OII] – 27","Spec interloper – 37"]}}},
 {"data":{"values":[{}]},"mark":{"type":"text","align":"right","baseline":"middle","fontSize":11},"encoding":{"x":{"datum":23.36,"axis":null},"y":{"datum":3.73,"axis":null},"text":{"value":"SpARCS1634"}}},
 {"data":{"values":[{}]},"mark":{"type":"text","align":"right","baseline":"middle","fontSize":9},"encoding":{"x":{"datum":23.36,"axis":null},"y":{"datum":3.47,"axis":null},"text":{"value":"z=1.177"}}},
 {"data":{"values":[{}]},"mark":{"type":"text","align":"left","baseline":"middle","fontSize":9.5},"encoding":{"x":{"datum":17.55,"axis":null},"y":{"datum":0.84,"axis":null},"text":{"value":"ZP = 4.08±0.06"}}}
]},
{"width":347,"height":181,"resolve":{"axis":{"x":"independent","y":"independent"}},"layer":[
 {"data":{"name":"p5"},"transform":[{"filter":"datum.k=='b'"}],"mark":{"type":"point","filled":true,"size":5,"color":"#a8a8a8","opacity":0.9,"clip":true},"encoding":{"x":{"field":"x","type":"quantitative","scale":{"domain":[17.23,23.73],"nice":false,"zero":false},"axis":{"orient":"bottom","tickCount":6,"tickSize":-5,"labels":false,"title":null}},"y":{"field":"y","type":"quantitative","scale":{"domain":[0.61,3.93],"nice":false,"zero":false},"axis":{"orient":"left","tickCount":6,"tickSize":-5,"labels":false,"title":null}}}},
 {"data":{"name":"p5"},"transform":[{"filter":"datum.k=='u'||datum.k=='l'"}],"mark":{"type":"rule","color":"#ff7a5c","strokeWidth":1.2,"strokeDash":[7,3,1.5,3],"clip":true},"encoding":{"x":{"field":"x","type":"quantitative","axis":{"orient":"bottom","tickCount":33,"tickSize":-2.5,"labels":false,"title":null}},"y":{"field":"y","type":"quantitative","axis":{"orient":"left","tickCount":33,"tickSize":-2.5,"labels":false,"title":null}},"x2":{"field":"x2"},"y2":{"field":"y2"}}},
 {"data":{"name":"p5"},"transform":[{"filter":"datum.k=='c'"}],"mark":{"type":"rule","color":"#ff3355","strokeWidth":1.2,"strokeDash":[1.5,2.5],"clip":true},"encoding":{"x":{"field":"x","type":"quantitative","axis":{"orient":"top","tickCount":6,"tickSize":-5,"labels":false,"title":null}},"y":{"field":"y","type":"quantitative","axis":{"orient":"right","tickCount":6,"tickSize":-5,"labels":false,"title":null}},"x2":{"field":"x2"},"y2":{"field":"y2"}}},
 {"data":{"name":"p5"},"transform":[{"filter":"datum.k=='d'||datum.k=='v'"}],"mark":{"type":"rule","color":"#666666","strokeWidth":1,"strokeDash":[1,2.5],"clip":true},"encoding":{"x":{"field":"x","type":"quantitative","axis":{"orient":"top","tickCount":33,"tickSize":-2.5,"labels":false,"title":null}},"y":{"field":"y","type":"quantitative","axis":{"orient":"right","tickCount":33,"tickSize":-2.5,"labels":false,"title":null}},"x2":{"field":"x2"},"y2":{"field":"y2"}}},
 {"data":{"name":"p5"},"transform":[{"filter":"datum.k=='i'"}],"mark":{"type":"point","shape":"M-1,-1L1,1M-1,1L1,-1","filled":false,"color":"#667788","strokeWidth":1.6,"size":42,"opacity":1,"clip":true},"encoding":{"x":{"field":"x","type":"quantitative","axis":null},"y":{"field":"y","type":"quantitative","axis":null}}},
 {"data":{"name":"p5"},"transform":[{"filter":"datum.k=='m'||datum.k=='o'"}],"mark":{"type":"point","shape":"diamond","filled":false,"color":"#ff0000","strokeWidth":2,"size":48,"opacity":1,"clip":true},"encoding":{"x":{"field":"x","type":"quantitative","axis":null},"y":{"field":"y","type":"quantitative","axis":null}}},
 {"data":{"name":"p5"},"transform":[{"filter":"datum.k=='m'"}],"mark":{"type":"point","filled":true,"color":"#000000","size":6,"opacity":1,"clip":true},"encoding":{"x":{"field":"x","type":"quantitative","axis":null},"y":{"field":"y","type":"quantitative","axis":null}}},
 {"data":{"name":"p5"},"transform":[{"filter":"datum.k=='g'"}],"mark":{"type":"point","shape":"M0,-1L0.3,-0.3L1,0L0.3,0.3L0,1L-0.3,0.3L-1,0L-0.3,-0.3Z","filled":false,"color":"#000000","strokeWidth":1.6,"size":110,"opacity":1,"clip":true},"encoding":{"x":{"field":"x","type":"quantitative","axis":null},"y":{"field":"y","type":"quantitative","axis":null}}},
 {"data":{"values":[{}]},"mark":{"type":"point","shape":"diamond","filled":false,"color":"#ff0000","strokeWidth":2,"size":48,"opacity":1},"encoding":{"x":{"datum":17.57,"axis":null},"y":{"datum":3.73,"axis":null}}},
 {"data":{"values":[{}]},"mark":{"type":"point","filled":true,"color":"#000000","size":6,"opacity":1},"encoding":{"x":{"datum":17.57,"axis":null},"y":{"datum":3.56,"axis":null}}},
 {"data":{"values":[{}]},"mark":{"type":"point","shape":"M-1,-1L1,1M-1,1L1,-1","filled":false,"color":"#667788","strokeWidth":1.6,"size":42,"opacity":1},"encoding":{"x":{"datum":17.57,"axis":null},"y":{"datum":3.39,"axis":null}}},
 {"data":{"values":[{}]},"mark":{"type":"text","align":"left","baseline":"middle","fontSize":9,"lineHeight":9.3},"encoding":{"x":{"datum":17.82,"axis":null},"y":{"datum":3.73,"axis":null},"text":{"value":["Spec member – 44","Spec member without [OII] – 39","Spec interloper – 49"]}}},
 {"data":{"values":[{}]},"mark":{"type":"text","align":"right","baseline":"middle","fontSize":11},"encoding":{"x":{"datum":23.36,"axis":null},"y":{"datum":3.73,"axis":null},"text":{"value":"SpARCS1616"}}},
 {"data":{"values":[{}]},"mark":{"type":"text","align":"right","baseline":"middle","fontSize":9},"encoding":{"x":{"datum":23.36,"axis":null},"y":{"datum":3.47,"axis":null},"text":{"value":"z=1.156"}}},
 {"data":{"values":[{}]},"mark":{"type":"text","align":"left","baseline":"middle","fontSize":9.5},"encoding":{"x":{"datum":17.55,"axis":null},"y":{"datum":0.84,"axis":null},"text":{"value":"ZP = 4.06±0.06"}}}
]}
],"spacing":6},
{"hconcat":[
{"width":347,"height":181,"resolve":{"axis":{"x":"independent","y":"independent"}},"layer":[
 {"data":{"name":"p6"},"transform":[{"filter":"datum.k=='b'"}],"mark":{"type":"point","filled":true,"size":5,"color":"#a8a8a8","opacity":0.9,"clip":true},"encoding":{"x":{"field":"x","type":"quantitative","scale":{"domain":[17.23,23.73],"nice":false,"zero":false},"axis":{"orient":"bottom","tickCount":6,"tickSize":-5,"title":"[3.6]"}},"y":{"field":"y","type":"quantitative","scale":{"domain":[0.61,3.93],"nice":false,"zero":false},"axis":{"orient":"left","tickCount":6,"tickSize":-5,"format":".1f","title":"z–[3.6]"}}}},
 {"data":{"name":"p6"},"transform":[{"filter":"datum.k=='u'||datum.k=='l'"}],"mark":{"type":"rule","color":"#ff7a5c","strokeWidth":1.2,"strokeDash":[7,3,1.5,3],"clip":true},"encoding":{"x":{"field":"x","type":"quantitative","axis":{"orient":"bottom","tickCount":33,"tickSize":-2.5,"labels":false,"title":null}},"y":{"field":"y","type":"quantitative","axis":{"orient":"left","tickCount":33,"tickSize":-2.5,"labels":false,"title":null}},"x2":{"field":"x2"},"y2":{"field":"y2"}}},
 {"data":{"name":"p6"},"transform":[{"filter":"datum.k=='c'"}],"mark":{"type":"rule","color":"#ff3355","strokeWidth":1.2,"strokeDash":[1.5,2.5],"clip":true},"encoding":{"x":{"field":"x","type":"quantitative","axis":{"orient":"top","tickCount":6,"tickSize":-5,"labels":false,"title":null}},"y":{"field":"y","type":"quantitative","axis":{"orient":"right","tickCount":6,"tickSize":-5,"labels":false,"title":null}},"x2":{"field":"x2"},"y2":{"field":"y2"}}},
 {"data":{"name":"p6"},"transform":[{"filter":"datum.k=='d'||datum.k=='v'"}],"mark":{"type":"rule","color":"#666666","strokeWidth":1,"strokeDash":[1,2.5],"clip":true},"encoding":{"x":{"field":"x","type":"quantitative","axis":{"orient":"top","tickCount":33,"tickSize":-2.5,"labels":false,"title":null}},"y":{"field":"y","type":"quantitative","axis":{"orient":"right","tickCount":33,"tickSize":-2.5,"labels":false,"title":null}},"x2":{"field":"x2"},"y2":{"field":"y2"}}},
 {"data":{"name":"p6"},"transform":[{"filter":"datum.k=='i'"}],"mark":{"type":"point","shape":"M-1,-1L1,1M-1,1L1,-1","filled":false,"color":"#667788","strokeWidth":1.6,"size":42,"opacity":1,"clip":true},"encoding":{"x":{"field":"x","type":"quantitative","axis":null},"y":{"field":"y","type":"quantitative","axis":null}}},
 {"data":{"name":"p6"},"transform":[{"filter":"datum.k=='m'||datum.k=='o'"}],"mark":{"type":"point","shape":"diamond","filled":false,"color":"#ff0000","strokeWidth":2,"size":48,"opacity":1,"clip":true},"encoding":{"x":{"field":"x","type":"quantitative","axis":null},"y":{"field":"y","type":"quantitative","axis":null}}},
 {"data":{"name":"p6"},"transform":[{"filter":"datum.k=='m'"}],"mark":{"type":"point","filled":true,"color":"#000000","size":6,"opacity":1,"clip":true},"encoding":{"x":{"field":"x","type":"quantitative","axis":null},"y":{"field":"y","type":"quantitative","axis":null}}},
 {"data":{"name":"p6"},"transform":[{"filter":"datum.k=='g'"}],"mark":{"type":"point","shape":"M0,-1L0.3,-0.3L1,0L0.3,0.3L0,1L-0.3,0.3L-1,0L-0.3,-0.3Z","filled":false,"color":"#000000","strokeWidth":1.6,"size":110,"opacity":1,"clip":true},"encoding":{"x":{"field":"x","type":"quantitative","axis":null},"y":{"field":"y","type":"quantitative","axis":null}}},
 {"data":{"values":[{}]},"mark":{"type":"point","shape":"diamond","filled":false,"color":"#ff0000","strokeWidth":2,"size":48,"opacity":1},"encoding":{"x":{"datum":17.57,"axis":null},"y":{"datum":3.73,"axis":null}}},
 {"data":{"values":[{}]},"mark":{"type":"point","filled":true,"color":"#000000","size":6,"opacity":1},"encoding":{"x":{"datum":17.57,"axis":null},"y":{"datum":3.56,"axis":null}}},
 {"data":{"values":[{}]},"mark":{"type":"point","shape":"M-1,-1L1,1M-1,1L1,-1","filled":false,"color":"#667788","strokeWidth":1.6,"size":42,"opacity":1},"encoding":{"x":{"datum":17.57,"axis":null},"y":{"datum":3.39,"axis":null}}},
 {"data":{"values":[{}]},"mark":{"type":"text","align":"left","baseline":"middle","fontSize":9,"lineHeight":9.3},"encoding":{"x":{"datum":17.82,"axis":null},"y":{"datum":3.73,"axis":null},"text":{"value":["Spec member – 30","Spec member without [OII] – 22","Spec interloper – 39"]}}},
 {"data":{"values":[{}]},"mark":{"type":"text","align":"right","baseline":"middle","fontSize":11},"encoding":{"x":{"datum":23.36,"axis":null},"y":{"datum":3.73,"axis":null},"text":{"value":"SpARCS1638"}}},
 {"data":{"values":[{}]},"mark":{"type":"text","align":"right","baseline":"middle","fontSize":9},"encoding":{"x":{"datum":23.36,"axis":null},"y":{"datum":3.47,"axis":null},"text":{"value":"z=1.196"}}},
 {"data":{"values":[{}]},"mark":{"type":"text","align":"left","baseline":"middle","fontSize":9.5},"encoding":{"x":{"datum":17.55,"axis":null},"y":{"datum":0.84,"axis":null},"text":{"value":"ZP = 4.11±0.07"}}}
]},
{"width":347,"height":181,"resolve":{"axis":{"x":"independent","y":"independent"}},"layer":[
 {"data":{"name":"p7"},"transform":[{"filter":"datum.k=='b'"}],"mark":{"type":"point","filled":true,"size":5,"color":"#a8a8a8","opacity":0.9,"clip":true},"encoding":{"x":{"field":"x","type":"quantitative","scale":{"domain":[17.23,23.73],"nice":false,"zero":false},"axis":{"orient":"bottom","tickCount":6,"tickSize":-5,"title":"[3.6]"}},"y":{"field":"y","type":"quantitative","scale":{"domain":[0.61,3.93],"nice":false,"zero":false},"axis":{"orient":"left","tickCount":6,"tickSize":-5,"labels":false,"title":null}}}},
 {"data":{"name":"p7"},"transform":[{"filter":"datum.k=='u'||datum.k=='l'"}],"mark":{"type":"rule","color":"#ff7a5c","strokeWidth":1.2,"strokeDash":[7,3,1.5,3],"clip":true},"encoding":{"x":{"field":"x","type":"quantitative","axis":{"orient":"bottom","tickCount":33,"tickSize":-2.5,"labels":false,"title":null}},"y":{"field":"y","type":"quantitative","axis":{"orient":"left","tickCount":33,"tickSize":-2.5,"labels":false,"title":null}},"x2":{"field":"x2"},"y2":{"field":"y2"}}},
 {"data":{"name":"p7"},"transform":[{"filter":"datum.k=='c'"}],"mark":{"type":"rule","color":"#ff3355","strokeWidth":1.2,"strokeDash":[1.5,2.5],"clip":true},"encoding":{"x":{"field":"x","type":"quantitative","axis":{"orient":"top","tickCount":6,"tickSize":-5,"labels":false,"title":null}},"y":{"field":"y","type":"quantitative","axis":{"orient":"right","tickCount":6,"tickSize":-5,"labels":false,"title":null}},"x2":{"field":"x2"},"y2":{"field":"y2"}}},
 {"data":{"name":"p7"},"transform":[{"filter":"datum.k=='d'||datum.k=='v'"}],"mark":{"type":"rule","color":"#666666","strokeWidth":1,"strokeDash":[1,2.5],"clip":true},"encoding":{"x":{"field":"x","type":"quantitative","axis":{"orient":"top","tickCount":33,"tickSize":-2.5,"labels":false,"title":null}},"y":{"field":"y","type":"quantitative","axis":{"orient":"right","tickCount":33,"tickSize":-2.5,"labels":false,"title":null}},"x2":{"field":"x2"},"y2":{"field":"y2"}}},
 {"data":{"name":"p7"},"transform":[{"filter":"datum.k=='i'"}],"mark":{"type":"point","shape":"M-1,-1L1,1M-1,1L1,-1","filled":false,"color":"#667788","strokeWidth":1.6,"size":42,"opacity":1,"clip":true},"encoding":{"x":{"field":"x","type":"quantitative","axis":null},"y":{"field":"y","type":"quantitative","axis":null}}},
 {"data":{"name":"p7"},"transform":[{"filter":"datum.k=='m'||datum.k=='o'"}],"mark":{"type":"point","shape":"diamond","filled":false,"color":"#ff0000","strokeWidth":2,"size":48,"opacity":1,"clip":true},"encoding":{"x":{"field":"x","type":"quantitative","axis":null},"y":{"field":"y","type":"quantitative","axis":null}}},
 {"data":{"name":"p7"},"transform":[{"filter":"datum.k=='m'"}],"mark":{"type":"point","filled":true,"color":"#000000","size":6,"opacity":1,"clip":true},"encoding":{"x":{"field":"x","type":"quantitative","axis":null},"y":{"field":"y","type":"quantitative","axis":null}}},
 {"data":{"name":"p7"},"transform":[{"filter":"datum.k=='g'"}],"mark":{"type":"point","shape":"M0,-1L0.3,-0.3L1,0L0.3,0.3L0,1L-0.3,0.3L-1,0L-0.3,-0.3Z","filled":false,"color":"#000000","strokeWidth":1.6,"size":110,"opacity":1,"clip":true},"encoding":{"x":{"field":"x","type":"quantitative","axis":null},"y":{"field":"y","type":"quantitative","axis":null}}},
 {"data":{"values":[{}]},"mark":{"type":"point","shape":"diamond","filled":false,"color":"#ff0000","strokeWidth":2,"size":48,"opacity":1},"encoding":{"x":{"datum":17.57,"axis":null},"y":{"datum":3.73,"axis":null}}},
 {"data":{"values":[{}]},"mark":{"type":"point","filled":true,"color":"#000000","size":6,"opacity":1},"encoding":{"x":{"datum":17.57,"axis":null},"y":{"datum":3.56,"axis":null}}},
 {"data":{"values":[{}]},"mark":{"type":"point","shape":"M-1,-1L1,1M-1,1L1,-1","filled":false,"color":"#667788","strokeWidth":1.6,"size":42,"opacity":1},"encoding":{"x":{"datum":17.57,"axis":null},"y":{"datum":3.39,"axis":null}}},
 {"data":{"values":[{}]},"mark":{"type":"text","align":"left","baseline":"middle","fontSize":9,"lineHeight":9.3},"encoding":{"x":{"datum":17.82,"axis":null},"y":{"datum":3.73,"axis":null},"text":{"value":["Spec member – 19","Spec member without [OII] – 17","Spec interloper – 19"]}}},
 {"data":{"values":[{}]},"mark":{"type":"text","align":"right","baseline":"middle","fontSize":11},"encoding":{"x":{"datum":23.36,"axis":null},"y":{"datum":3.73,"axis":null},"text":{"value":"SPT0205"}}},
 {"data":{"values":[{}]},"mark":{"type":"text","align":"right","baseline":"middle","fontSize":9},"encoding":{"x":{"datum":23.36,"axis":null},"y":{"datum":3.47,"axis":null},"text":{"value":"z=1.320"}}},
 {"data":{"values":[{}]},"mark":{"type":"text","align":"left","baseline":"middle","fontSize":9.5},"encoding":{"x":{"datum":17.55,"axis":null},"y":{"datum":0.84,"axis":null},"text":{"value":"ZP = 4.30±0.07"}}}
]}
],"spacing":6}
]
}
